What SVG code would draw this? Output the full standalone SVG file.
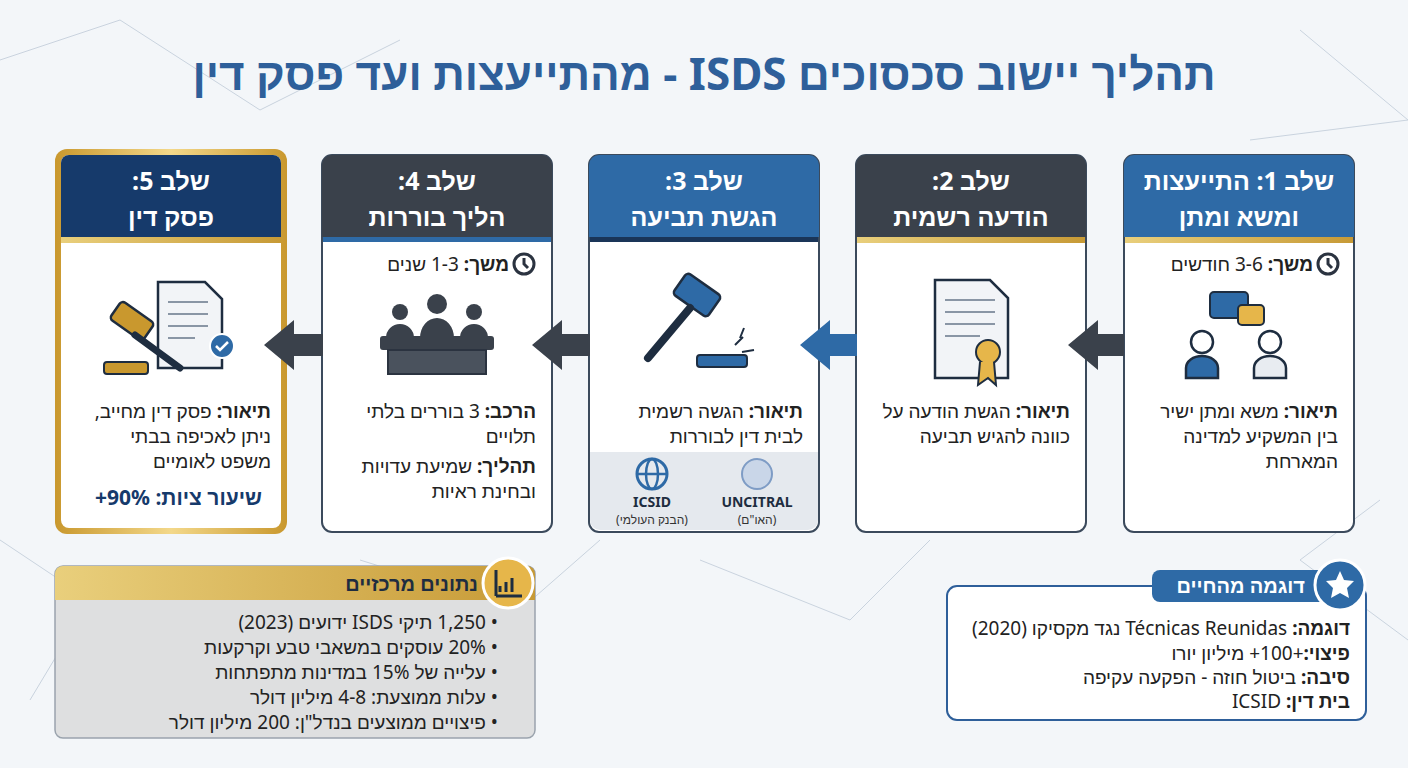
<svg xmlns="http://www.w3.org/2000/svg" width="1408" height="768" viewBox="0 0 1408 768">
<defs>
<style>
text{font-family:"Noto Sans","Liberation Sans",sans-serif;direction:rtl}
.t{font-size:19px;fill:#222}
.b{font-weight:700}
.h{font-size:25px;font-weight:700;fill:#fff;text-anchor:middle}
.card{fill:#fff;stroke:#3b4a5c;stroke-width:2}
.net{stroke:#c9d3de;stroke-width:1;fill:none}
.ic{stroke:#2b3340;stroke-width:3;fill:none}
</style>
<linearGradient id="gold" x1="0" x2="1"><stop offset="0" stop-color="#c9982e"/><stop offset="0.5" stop-color="#f3d88a"/><stop offset="1" stop-color="#c9982e"/></linearGradient>
<linearGradient id="gbar" x1="0" x2="1"><stop offset="0" stop-color="#e9cf7c"/><stop offset="1" stop-color="#c79a36"/></linearGradient>
</defs>
<rect width="1408" height="768" fill="#f3f6f9"/>
<g class="net">
<path d="M0 60 L120 20 L260 110 L400 40 M1300 30 L1408 120 L1250 140 M0 540 L90 600 L30 700 M1380 500 L1300 560 L1408 640 M360 560 L520 610 L600 540 M700 560 L850 620 L930 540"/>
</g>
<text x="704" y="90" style="font-size:44px;font-weight:700;fill:#2e5f9a;text-anchor:middle">תהליך יישוב סכסוכים ISDS - מהתייעצות ועד פסק דין</text>

<g id="step1">
<rect class="card" x="1124" y="155" width="230" height="377" rx="10"/>
<path d="M1124 237 V165 a10 10 0 0 1 10 -10 H1344 a10 10 0 0 1 10 10 V237 Z" fill="#2e6aa6"/>
<rect x="1125" y="237" width="228" height="6" fill="url(#gbar)"/>
<text class="h" x="1239" y="190">שלב 1: התייעצות</text>
<text class="h" x="1239" y="226">ומשא ומתן</text>
<circle class="ic" cx="1328" cy="264" r="10" stroke-width="2"/><path d="M1328 258 V264 L1332 268" class="ic" stroke-width="2"/>
<text class="t" x="1313" y="271"><tspan class="b">משך:</tspan> 3-6 חודשים</text>
<rect x="1210" y="292" width="38" height="26" rx="4" fill="#2e6aa6" stroke="#1e2d40" stroke-width="2"/>
<rect x="1238" y="305" width="26" height="20" rx="4" fill="#e6b64a" stroke="#1e2d40" stroke-width="2"/>
<circle cx="1202" cy="342" r="11" fill="#fff" stroke="#1e2d40" stroke-width="2.5"/>
<path d="M1186 378 v-10 a16 12 0 0 1 32 0 v10 z" fill="#2e6aa6" stroke="#1e2d40" stroke-width="2.5"/>
<circle cx="1270" cy="342" r="11" fill="#fff" stroke="#1e2d40" stroke-width="2.5"/>
<path d="M1254 378 v-10 a16 12 0 0 1 32 0 v10 z" fill="#e8ecf1" stroke="#1e2d40" stroke-width="2.5"/>
<text class="t" x="1338" y="418"><tspan class="b">תיאור:</tspan> משא ומתן ישיר</text>
<text class="t" x="1338" y="443">בין המשקיע למדינה</text>
<text class="t" x="1338" y="468">המארחת</text>
</g>

<g id="step2">
<rect class="card" x="856" y="155" width="230" height="377" rx="10"/>
<path d="M856 237 V165 a10 10 0 0 1 10 -10 H1076 a10 10 0 0 1 10 10 V237 Z" fill="#3a414b"/>
<rect x="857" y="237" width="228" height="6" fill="url(#gbar)"/>
<text class="h" x="971" y="190">שלב 2:</text>
<text class="h" x="971" y="226">הודעה רשמית</text>
<path d="M935 280 H990 L1008 298 V378 H935 Z" fill="#f2f4f7" stroke="#1e2d40" stroke-width="2.5"/>
<path d="M945 300 H995 M945 312 H995 M945 324 H995 M945 336 H980" stroke="#8a96a5" stroke-width="2"/>
<circle cx="988" cy="352" r="12" fill="#e6b64a" stroke="#1e2d40" stroke-width="2"/>
<path d="M980 362 L978 385 L988 378 L996 385 L994 362" fill="#e6b64a" stroke="#1e2d40" stroke-width="2"/>
<text class="t" x="1070" y="418"><tspan class="b">תיאור:</tspan> הגשת הודעה על</text>
<text class="t" x="1070" y="443">כוונה להגיש תביעה</text>
</g>

<g id="step3">
<rect class="card" x="589" y="155" width="230" height="377" rx="10"/>
<path d="M589 237 V165 a10 10 0 0 1 10 -10 H809 a10 10 0 0 1 10 10 V237 Z" fill="#2e6aa6"/>
<rect x="590" y="237" width="228" height="5" fill="#1a3558"/>
<text class="h" x="704" y="190">שלב 3:</text>
<text class="h" x="704" y="226">הגשת תביעה</text>
<rect x="676" y="282" width="42" height="26" rx="4" fill="#2e6aa6" stroke="#1e2d40" stroke-width="2.5" transform="rotate(35 697 295)"/>
<path d="M690 308 L648 358" stroke="#1e2d40" stroke-width="8" stroke-linecap="round"/>
<rect x="697" y="355" width="50" height="12" rx="3" fill="#2e6aa6" stroke="#1e2d40" stroke-width="2"/>
<path d="M735 345 l8 -8 M742 352 l12 -2 M740 338 l4 -10" stroke="#1e2d40" stroke-width="2"/>
<text class="t" x="803" y="418"><tspan class="b">תיאור:</tspan> הגשה רשמית</text>
<text class="t" x="803" y="443">לבית דין לבוררות</text>
<path d="M590 452 H818 V520 a10 10 0 0 1 -10 10 H600 a10 10 0 0 1 -10 -10 Z" fill="#e5e9ee"/>
<circle cx="652" cy="474" r="15" fill="none" stroke="#2e6aa6" stroke-width="3"/>
<ellipse cx="652" cy="474" rx="6" ry="15" fill="none" stroke="#2e6aa6" stroke-width="2.5"/>
<path d="M637 474 H667" stroke="#2e6aa6" stroke-width="2.5"/>
<circle cx="757" cy="474" r="15" fill="#c9d6e8" stroke="#7e9cc5" stroke-width="2"/>
<text x="652" y="507" style="font-size:14px;font-weight:700;fill:#1e2d40;text-anchor:middle;direction:ltr">ICSID</text>
<text x="757" y="507" style="font-size:14px;font-weight:700;fill:#1e2d40;text-anchor:middle;direction:ltr">UNCITRAL</text>
<text x="652" y="524" style="font-size:12px;fill:#333;text-anchor:middle">(הבנק העולמי)</text>
<text x="757" y="524" style="font-size:12px;fill:#333;text-anchor:middle">(האו"ם)</text>
</g>

<g id="step4">
<rect class="card" x="322" y="155" width="230" height="377" rx="10"/>
<path d="M322 237 V165 a10 10 0 0 1 10 -10 H542 a10 10 0 0 1 10 10 V237 Z" fill="#3a414b"/>
<rect x="323" y="237" width="228" height="5" fill="#2e6aa6"/>
<text class="h" x="437" y="190">שלב 4:</text>
<text class="h" x="437" y="226">הליך בוררות</text>
<circle class="ic" cx="524" cy="264" r="10" stroke-width="2"/><path d="M524 258 V264 L528 268" class="ic" stroke-width="2"/>
<text class="t" x="509" y="271"><tspan class="b">משך:</tspan> 1-3 שנים</text>
<circle cx="400" cy="312" r="8" fill="#3a414b"/><circle cx="437" cy="304" r="10" fill="#3a414b"/><circle cx="474" cy="312" r="8" fill="#3a414b"/>
<path d="M386 338 a14 14 0 0 1 28 0 Z M420 338 a17 20 0 0 1 34 0 Z M460 338 a14 14 0 0 1 28 0 Z" fill="#3a414b"/>
<rect x="380" y="336" width="114" height="14" rx="3" fill="#3a414b"/>
<rect x="388" y="350" width="98" height="24" fill="#4a525d" stroke="#2b3340" stroke-width="2"/>
<text class="t" x="536" y="418"><tspan class="b">הרכב:</tspan> 3 בוררים בלתי</text>
<text class="t" x="536" y="443">תלויים</text>
<text class="t" x="536" y="473"><tspan class="b">תהליך:</tspan> שמיעת עדויות</text>
<text class="t" x="536" y="498">ובחינת ראיות</text>
</g>

<g id="step5">
<rect x="55" y="149" width="232" height="385" rx="12" fill="url(#gold)"/>
<rect x="61" y="155" width="220" height="373" rx="8" fill="#fff"/>
<path d="M61 237 V163 a8 8 0 0 1 8 -8 H273 a8 8 0 0 1 8 8 V237 Z" fill="#163a6b"/>
<rect x="61" y="237" width="220" height="6" fill="url(#gbar)"/>
<text class="h" x="171" y="190">שלב 5:</text>
<text class="h" x="171" y="226">פסק דין</text>
<path d="M158 282 H205 L222 299 V368 H158 Z" fill="#f2f4f7" stroke="#1e2d40" stroke-width="2.5"/>
<path d="M168 302 H208 M168 314 H208 M168 326 H208 M168 338 H195" stroke="#8a96a5" stroke-width="2"/>
<circle cx="222" cy="346" r="12" fill="#2e6aa6" stroke="#fff" stroke-width="2"/>
<path d="M216 346 l4 4 l8 -8" stroke="#fff" stroke-width="2.5" fill="none"/>
<rect x="112" y="310" width="40" height="22" rx="4" fill="#c9982e" stroke="#1e2d40" stroke-width="2.5" transform="rotate(35 132 321)"/>
<path d="M135 335 L180 368" stroke="#1e2d40" stroke-width="7" stroke-linecap="round"/>
<rect x="104" y="362" width="44" height="12" rx="3" fill="#c9982e" stroke="#1e2d40" stroke-width="2"/>
<text class="t" x="271" y="418"><tspan class="b">תיאור:</tspan> פסק דין מחייב,</text>
<text class="t" x="271" y="443">ניתן לאכיפה בבתי</text>
<text class="t" x="271" y="468">משפט לאומיים</text>
<text x="262" y="505" style="font-size:21px;font-weight:700;fill:#163a6b">שיעור ציות: 90%+</text>
</g>

<g id="connectors">
<polygon points="1124,334 1098,334 1098,320 1068,345 1098,370 1098,356 1124,356" fill="#3a414b"/>
<polygon points="857,334 830,334 830,320 800,345 830,370 830,356 857,356" fill="#2e6aa6"/>
<polygon points="590,334 562,334 562,320 532,345 562,370 562,356 590,356" fill="#3a414b"/>
<polygon points="323,334 294,334 294,320 264,345 294,370 294,356 323,356" fill="#3a414b"/>
</g>

<g id="keydata">
<rect x="55" y="566" width="480" height="172" rx="8" fill="#dedfe0" stroke="#9aa3ad" stroke-width="1.5"/>
<path d="M55 600 V574 a8 8 0 0 1 8 -8 H527 a8 8 0 0 1 8 8 V600 Z" fill="url(#gbar)"/>
<circle cx="508" cy="583" r="25" fill="#e6b64a" stroke="#fff" stroke-width="3"/>
<path d="M496 596 V570 M496 596 H522 M500 592 v-6 M506 592 v-10 M512 592 v-14" stroke="#1e2d40" stroke-width="3"/>
<text x="478" y="591" style="font-size:20px;font-weight:700;fill:#1e2d40">נתונים מרכזיים</text>
<text class="t" x="498" y="629">• 1,250 תיקי ISDS ידועים (2023)</text>
<text class="t" x="498" y="654">• 20% עוסקים במשאבי טבע וקרקעות</text>
<text class="t" x="498" y="679">• עלייה של 15% במדינות מתפתחות</text>
<text class="t" x="498" y="704">• עלות ממוצעת: 4-8 מיליון דולר</text>
<text class="t" x="498" y="729">• פיצויים ממוצעים בנדל"ן: 200 מיליון דולר</text>
</g>

<g id="example">
<rect x="947" y="586" width="419" height="134" rx="10" fill="#fff" stroke="#2e5f9a" stroke-width="2"/>
<rect x="1152" y="570" width="175" height="32" rx="8" fill="#2e6aa6"/>
<text x="1305" y="593" style="font-size:20px;font-weight:700;fill:#fff">דוגמה מהחיים</text>
<circle cx="1340" cy="585" r="25" fill="#2e6aa6" stroke="#fff" stroke-width="3"/>
<polygon points="1340,571 1344,580 1354,581 1347,588 1349,598 1340,593 1331,598 1333,588 1326,581 1336,580" fill="#fff"/>
<text class="t" x="1350" y="635"><tspan class="b">דוגמה:</tspan> Técnicas Reunidas נגד מקסיקו (2020)</text>
<text class="t" x="1350" y="660"><tspan class="b">פיצוי:</tspan>+100+ מיליון יורו</text>
<text class="t" x="1350" y="684"><tspan class="b">סיבה:</tspan> ביטול חוזה - הפקעה עקיפה</text>
<text class="t" x="1350" y="708"><tspan class="b">בית דין:</tspan> ICSID</text>
</g>
</svg>
